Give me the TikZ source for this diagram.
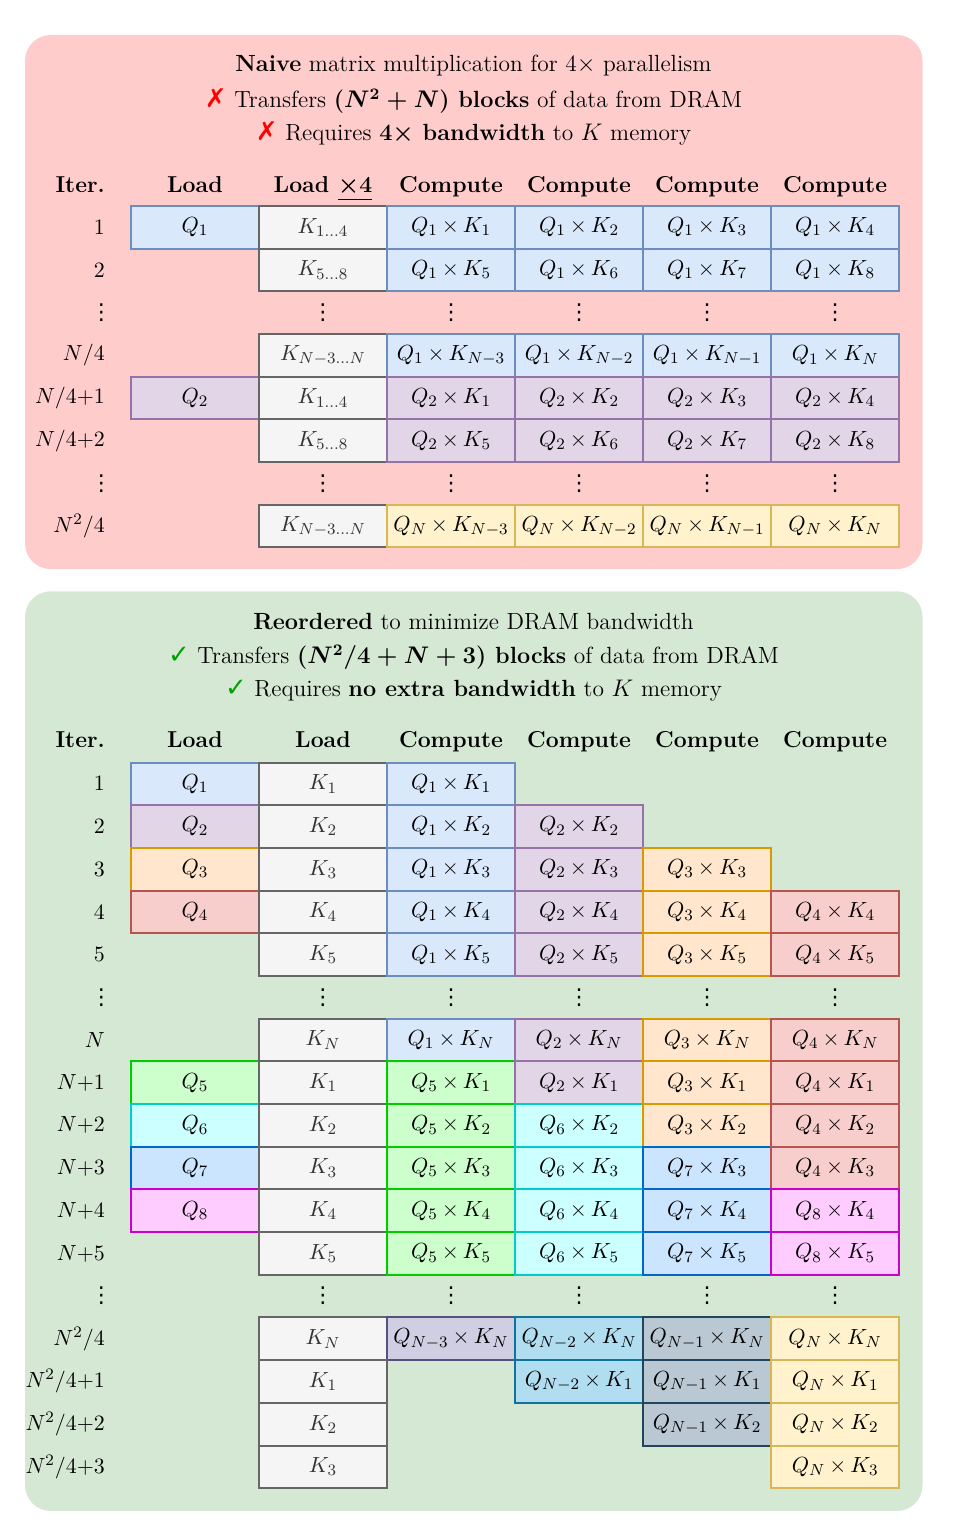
\documentclass[tikz,border=0pt]{standalone}
\usepackage{amsmath}
\usepackage{fontspec}
\usepackage{tikz}
\usetikzlibrary{positioning,calc}
\newfontfamily\marksfont{DejaVu Sans}

\definecolor{panelPink}{HTML}{FFCCCC}
\definecolor{panelGreen}{HTML}{D5E8D4}
\definecolor{fillK}{HTML}{F5F5F5}  \definecolor{lineK}{HTML}{666666} \definecolor{textK}{HTML}{333333}
\definecolor{fillB}{HTML}{DAE8FC}  \definecolor{lineB}{HTML}{6C8EBF}
\definecolor{fillP}{HTML}{E1D5E7}  \definecolor{lineP}{HTML}{9673A6}
\definecolor{fillO}{HTML}{FFE6CC}  \definecolor{lineO}{HTML}{D79B00}
\definecolor{fillR}{HTML}{F8CECC}  \definecolor{lineR}{HTML}{B85450}
\definecolor{fillY}{HTML}{FFF2CC}  \definecolor{lineY}{HTML}{D6B656}
\definecolor{fillG}{HTML}{CCFFCC}  \definecolor{lineG}{HTML}{00CC00}
\definecolor{fillC}{HTML}{CCFFFF}  \definecolor{lineC}{HTML}{00CCCC}
\definecolor{fillL}{HTML}{CCE5FF}  \definecolor{lineL}{HTML}{0066CC}
\definecolor{fillM}{HTML}{FFCCFF}  \definecolor{lineM}{HTML}{CC00CC}
\definecolor{fillV}{HTML}{D0CEE2}  \definecolor{lineV}{HTML}{56517E}
\definecolor{fillS}{HTML}{B1DDF0}  \definecolor{lineS}{HTML}{10739E}
\definecolor{fillD}{HTML}{BAC8D3}  \definecolor{lineD}{HTML}{23445D}
\definecolor{tickGreen}{HTML}{00A000}

\tikzset{
    cell/.style={draw, line width=1pt, minimum width=2.25cm, minimum height=0.75cm, inner sep=0pt,
                 font=\fontsize{11}{13}\selectfont, execute at begin node={\medmuskip=3.3mu\relax}},
    cellK/.style={cell, draw=lineK, fill=fillK, text=textK},
    cellB/.style={cell, draw=lineB, fill=fillB},
    cellP/.style={cell, draw=lineP, fill=fillP},
    cellO/.style={cell, draw=lineO, fill=fillO},
    cellR/.style={cell, draw=lineR, fill=fillR},
    cellY/.style={cell, draw=lineY, fill=fillY},
    cellG/.style={cell, draw=lineG, fill=fillG},
    cellC/.style={cell, draw=lineC, fill=fillC},
    cellL/.style={cell, draw=lineL, fill=fillL},
    cellM/.style={cell, draw=lineM, fill=fillM},
    cellV/.style={cell, draw=lineV, fill=fillV},
    cellS/.style={cell, draw=lineS, fill=fillS},
    cellD/.style={cell, draw=lineD, fill=fillD},
    head/.style={font=\fontsize{11.5}{13}\selectfont\bfseries, text height=1.7ex, text depth=0.5ex},
    iter/.style={anchor=east, inner xsep=0pt, font=\fontsize{11}{13}\selectfont},
    vdot/.style={inner sep=0pt, font=\marksfont\fontsize{11}{13}\selectfont},
    title/.style={font=\fontsize{11.7}{13}\selectfont},
    panel/.style={rounded corners=0.45cm},
}
\newcommand{\nomark}{{\marksfont\bfseries\fontsize{13}{13}\selectfont\color{red}✗}}
\newcommand{\okmark}{{\marksfont\bfseries\fontsize{13}{13}\selectfont\color{tickGreen}✓}}

\begin{document}
\begin{tikzpicture}
    \useasboundingbox (0,0) rectangle (16.99,-26.99);

    % Naive panel
    \fill[panel, panelPink] (0.44,-0.615) rectangle (16.21,-10.0);
    \node[title] (tA1) at (8.32,-1.16) {\textbf{Naive} matrix multiplication for 4$\times$ parallelism};
    \node[title] (tA2) at (8.32,-1.78) {\nomark\ Transfers \textbf{({\boldmath$N^2 + N$}) blocks} of data from DRAM};
    \node[title] (tA3) at (8.32,-2.34) {\nomark\ Requires \textbf{4{\boldmath$\times$} bandwidth} to $K$ memory};

    % Naive table header
    \node[iter, font=\fontsize{11.5}{13}\selectfont\bfseries, text height=1.7ex, text depth=0.5ex] (hA0) at (1.85,-3.3) {Iter.};
    \node[head] (hA1) at (3.425,-3.3) {Load};
    \node[head] (hA2) at (5.675,-3.3) {Load \underline{{\boldmath$\times$}4}};
    \node[head] (hA3) at (7.925,-3.3) {Compute};
    \node[head] (hA4) at (10.175,-3.3) {Compute};
    \node[head] (hA5) at (12.425,-3.3) {Compute};
    \node[head] (hA6) at (14.675,-3.3) {Compute};

    % Naive rows
    \node[iter] (iA1) at (1.85,-3.995) {$1$};
    \node[cellB] (T1L) at (3.425,-3.995) {$Q_1$};
    \node[cellK] (T1K) at (5.675,-3.995) {$K_{1\ldots4}$};
    \node[cellB] (T1a) at (7.925,-3.995) {$Q_1 \times K_1$};
    \node[cellB] (T1b) at (10.175,-3.995) {$Q_1 \times K_2$};
    \node[cellB] (T1c) at (12.425,-3.995) {$Q_1 \times K_3$};
    \node[cellB] (T1d) at (14.675,-3.995) {$Q_1 \times K_4$};

    \node[iter] (iA2) at (1.85,-4.745) {$2$};
    \node[cellK] (T2K) at (5.675,-4.745) {$K_{5\ldots8}$};
    \node[cellB] (T2a) at (7.925,-4.745) {$Q_1 \times K_5$};
    \node[cellB] (T2b) at (10.175,-4.745) {$Q_1 \times K_6$};
    \node[cellB] (T2c) at (12.425,-4.745) {$Q_1 \times K_7$};
    \node[cellB] (T2d) at (14.675,-4.745) {$Q_1 \times K_8$};

    \node[vdot] (dA0) at (1.78,-5.495) {⋮};
    \node[vdot] (dA2) at (5.675,-5.495) {⋮};
    \node[vdot] (dA3) at (7.925,-5.495) {⋮};
    \node[vdot] (dA4) at (10.175,-5.495) {⋮};
    \node[vdot] (dA5) at (12.425,-5.495) {⋮};
    \node[vdot] (dA6) at (14.675,-5.495) {⋮};

    \node[iter] (iA3) at (1.85,-6.245) {$N/4$};
    \node[cellK] (T3K) at (5.675,-6.245) {$K_{N-3\ldots N}$};
    \node[cellB] (T3a) at (7.925,-6.245) {$Q_1 \times K_{N-3}$};
    \node[cellB] (T3b) at (10.175,-6.245) {$Q_1 \times K_{N-2}$};
    \node[cellB] (T3c) at (12.425,-6.245) {$Q_1 \times K_{N-1}$};
    \node[cellB] (T3d) at (14.675,-6.245) {$Q_1 \times K_N$};

    \node[iter] (iA4) at (1.85,-6.995) {$N/4{+}1$};
    \node[cellP] (T4L) at (3.425,-6.995) {$Q_2$};
    \node[cellK] (T4K) at (5.675,-6.995) {$K_{1\ldots4}$};
    \node[cellP] (T4a) at (7.925,-6.995) {$Q_2 \times K_1$};
    \node[cellP] (T4b) at (10.175,-6.995) {$Q_2 \times K_2$};
    \node[cellP] (T4c) at (12.425,-6.995) {$Q_2 \times K_3$};
    \node[cellP] (T4d) at (14.675,-6.995) {$Q_2 \times K_4$};

    \node[iter] (iA5) at (1.85,-7.745) {$N/4{+}2$};
    \node[cellK] (T5K) at (5.675,-7.745) {$K_{5\ldots8}$};
    \node[cellP] (T5a) at (7.925,-7.745) {$Q_2 \times K_5$};
    \node[cellP] (T5b) at (10.175,-7.745) {$Q_2 \times K_6$};
    \node[cellP] (T5c) at (12.425,-7.745) {$Q_2 \times K_7$};
    \node[cellP] (T5d) at (14.675,-7.745) {$Q_2 \times K_8$};

    \node[vdot] (dB0) at (1.78,-8.495) {⋮};
    \node[vdot] (dB2) at (5.675,-8.495) {⋮};
    \node[vdot] (dB3) at (7.925,-8.495) {⋮};
    \node[vdot] (dB4) at (10.175,-8.495) {⋮};
    \node[vdot] (dB5) at (12.425,-8.495) {⋮};
    \node[vdot] (dB6) at (14.675,-8.495) {⋮};

    \node[iter] (iA6) at (1.85,-9.245) {$N^2/4$};
    \node[cellK] (T6K) at (5.675,-9.245) {$K_{N-3\ldots N}$};
    \node[cellY] (T6a) at (7.925,-9.245) {$Q_N \times K_{N-3}$};
    \node[cellY] (T6b) at (10.175,-9.245) {$Q_N \times K_{N-2}$};
    \node[cellY] (T6c) at (12.425,-9.245) {$Q_N \times K_{N-1}$};
    \node[cellY] (T6d) at (14.675,-9.245) {$Q_N \times K_N$};

    % Reordered panel
    \fill[panel, panelGreen] (0.44,-10.39) rectangle (16.21,-26.55);
    \node[title] (tB1) at (8.32,-10.92) {\textbf{Reordered} to minimize DRAM bandwidth};
    \node[title] (tB2) at (8.32,-11.55) {\okmark\ Transfers \textbf{({\boldmath$N^2/4 + N + 3$}) blocks} of data from DRAM};
    \node[title] (tB3) at (8.32,-12.13) {\okmark\ Requires \textbf{no extra bandwidth} to $K$ memory};

    % Reordered table header
    \node[iter, font=\fontsize{11.5}{13}\selectfont\bfseries, text height=1.7ex, text depth=0.5ex] (hB0) at (1.85,-13.05) {Iter.};
    \node[head] (hB1) at (3.425,-13.05) {Load};
    \node[head] (hB2) at (5.675,-13.05) {Load};
    \node[head] (hB3) at (7.925,-13.05) {Compute};
    \node[head] (hB4) at (10.175,-13.05) {Compute};
    \node[head] (hB5) at (12.425,-13.05) {Compute};
    \node[head] (hB6) at (14.675,-13.05) {Compute};

    % Reordered rows, first Q block
    \node[iter] (iB1) at (1.85,-13.775) {$1$};
    \node[cellB] (B1L) at (3.425,-13.775) {$Q_1$};
    \node[cellK] (B1K) at (5.675,-13.775) {$K_1$};
    \node[cellB] (B1a) at (7.925,-13.775) {$Q_1 \times K_1$};

    \node[iter] (iB2) at (1.85,-14.525) {$2$};
    \node[cellP] (B2L) at (3.425,-14.525) {$Q_2$};
    \node[cellK] (B2K) at (5.675,-14.525) {$K_2$};
    \node[cellB] (B2a) at (7.925,-14.525) {$Q_1 \times K_2$};
    \node[cellP] (B2b) at (10.175,-14.525) {$Q_2 \times K_2$};

    \node[iter] (iB3) at (1.85,-15.275) {$3$};
    \node[cellO] (B3L) at (3.425,-15.275) {$Q_3$};
    \node[cellK] (B3K) at (5.675,-15.275) {$K_3$};
    \node[cellB] (B3a) at (7.925,-15.275) {$Q_1 \times K_3$};
    \node[cellP] (B3b) at (10.175,-15.275) {$Q_2 \times K_3$};
    \node[cellO] (B3c) at (12.425,-15.275) {$Q_3 \times K_3$};

    \node[iter] (iB4) at (1.85,-16.025) {$4$};
    \node[cellR] (B4L) at (3.425,-16.025) {$Q_4$};
    \node[cellK] (B4K) at (5.675,-16.025) {$K_4$};
    \node[cellB] (B4a) at (7.925,-16.025) {$Q_1 \times K_4$};
    \node[cellP] (B4b) at (10.175,-16.025) {$Q_2 \times K_4$};
    \node[cellO] (B4c) at (12.425,-16.025) {$Q_3 \times K_4$};
    \node[cellR] (B4d) at (14.675,-16.025) {$Q_4 \times K_4$};

    \node[iter] (iB5) at (1.85,-16.775) {$5$};
    \node[cellK] (B5K) at (5.675,-16.775) {$K_5$};
    \node[cellB] (B5a) at (7.925,-16.775) {$Q_1 \times K_5$};
    \node[cellP] (B5b) at (10.175,-16.775) {$Q_2 \times K_5$};
    \node[cellO] (B5c) at (12.425,-16.775) {$Q_3 \times K_5$};
    \node[cellR] (B5d) at (14.675,-16.775) {$Q_4 \times K_5$};

    \node[vdot] (dC0) at (1.78,-17.525) {⋮};
    \node[vdot] (dC2) at (5.675,-17.525) {⋮};
    \node[vdot] (dC3) at (7.925,-17.525) {⋮};
    \node[vdot] (dC4) at (10.175,-17.525) {⋮};
    \node[vdot] (dC5) at (12.425,-17.525) {⋮};
    \node[vdot] (dC6) at (14.675,-17.525) {⋮};

    \node[iter] (iB6) at (1.85,-18.275) {$N$};
    \node[cellK] (B6K) at (5.675,-18.275) {$K_N$};
    \node[cellB] (B6a) at (7.925,-18.275) {$Q_1 \times K_N$};
    \node[cellP] (B6b) at (10.175,-18.275) {$Q_2 \times K_N$};
    \node[cellO] (B6c) at (12.425,-18.275) {$Q_3 \times K_N$};
    \node[cellR] (B6d) at (14.675,-18.275) {$Q_4 \times K_N$};

    % Reordered rows, second Q block
    \node[iter] (iB7) at (1.85,-19.025) {$N{+}1$};
    \node[cellG] (B7L) at (3.425,-19.025) {$Q_5$};
    \node[cellK] (B7K) at (5.675,-19.025) {$K_1$};
    \node[cellG] (B7a) at (7.925,-19.025) {$Q_5 \times K_1$};
    \node[cellP] (B7b) at (10.175,-19.025) {$Q_2 \times K_1$};
    \node[cellO] (B7c) at (12.425,-19.025) {$Q_3 \times K_1$};
    \node[cellR] (B7d) at (14.675,-19.025) {$Q_4 \times K_1$};

    \node[iter] (iB8) at (1.85,-19.775) {$N{+}2$};
    \node[cellC] (B8L) at (3.425,-19.775) {$Q_6$};
    \node[cellK] (B8K) at (5.675,-19.775) {$K_2$};
    \node[cellG] (B8a) at (7.925,-19.775) {$Q_5 \times K_2$};
    \node[cellC] (B8b) at (10.175,-19.775) {$Q_6 \times K_2$};
    \node[cellO] (B8c) at (12.425,-19.775) {$Q_3 \times K_2$};
    \node[cellR] (B8d) at (14.675,-19.775) {$Q_4 \times K_2$};

    \node[iter] (iB9) at (1.85,-20.525) {$N{+}3$};
    \node[cellL] (B9L) at (3.425,-20.525) {$Q_7$};
    \node[cellK] (B9K) at (5.675,-20.525) {$K_3$};
    \node[cellG] (B9a) at (7.925,-20.525) {$Q_5 \times K_3$};
    \node[cellC] (B9b) at (10.175,-20.525) {$Q_6 \times K_3$};
    \node[cellL] (B9c) at (12.425,-20.525) {$Q_7 \times K_3$};
    \node[cellR] (B9d) at (14.675,-20.525) {$Q_4 \times K_3$};

    \node[iter] (iB10) at (1.85,-21.275) {$N{+}4$};
    \node[cellM] (B10L) at (3.425,-21.275) {$Q_8$};
    \node[cellK] (B10K) at (5.675,-21.275) {$K_4$};
    \node[cellG] (B10a) at (7.925,-21.275) {$Q_5 \times K_4$};
    \node[cellC] (B10b) at (10.175,-21.275) {$Q_6 \times K_4$};
    \node[cellL] (B10c) at (12.425,-21.275) {$Q_7 \times K_4$};
    \node[cellM] (B10d) at (14.675,-21.275) {$Q_8 \times K_4$};

    \node[iter] (iB11) at (1.85,-22.025) {$N{+}5$};
    \node[cellK] (B11K) at (5.675,-22.025) {$K_5$};
    \node[cellG] (B11a) at (7.925,-22.025) {$Q_5 \times K_5$};
    \node[cellC] (B11b) at (10.175,-22.025) {$Q_6 \times K_5$};
    \node[cellL] (B11c) at (12.425,-22.025) {$Q_7 \times K_5$};
    \node[cellM] (B11d) at (14.675,-22.025) {$Q_8 \times K_5$};

    \node[vdot] (dD0) at (1.78,-22.775) {⋮};
    \node[vdot] (dD2) at (5.675,-22.775) {⋮};
    \node[vdot] (dD3) at (7.925,-22.775) {⋮};
    \node[vdot] (dD4) at (10.175,-22.775) {⋮};
    \node[vdot] (dD5) at (12.425,-22.775) {⋮};
    \node[vdot] (dD6) at (14.675,-22.775) {⋮};

    % Reordered rows, tail
    \node[iter] (iB13) at (1.85,-23.525) {$N^2/4$};
    \node[cellK] (B13K) at (5.675,-23.525) {$K_N$};
    \node[cellV] (B13a) at (7.925,-23.525) {$Q_{N-3} \times K_N$};
    \node[cellS] (B13b) at (10.175,-23.525) {$Q_{N-2} \times K_N$};
    \node[cellD] (B13c) at (12.425,-23.525) {$Q_{N-1} \times K_N$};
    \node[cellY] (B13d) at (14.675,-23.525) {$Q_N \times K_N$};

    \node[iter] (iB14) at (1.85,-24.275) {$N^2/4{+}1$};
    \node[cellK] (B14K) at (5.675,-24.275) {$K_1$};
    \node[cellS] (B14b) at (10.175,-24.275) {$Q_{N-2} \times K_1$};
    \node[cellD] (B14c) at (12.425,-24.275) {$Q_{N-1} \times K_1$};
    \node[cellY] (B14d) at (14.675,-24.275) {$Q_N \times K_1$};

    \node[iter] (iB15) at (1.85,-25.025) {$N^2/4{+}2$};
    \node[cellK] (B15K) at (5.675,-25.025) {$K_2$};
    \node[cellD] (B15c) at (12.425,-25.025) {$Q_{N-1} \times K_2$};
    \node[cellY] (B15d) at (14.675,-25.025) {$Q_N \times K_2$};

    \node[iter] (iB16) at (1.85,-25.775) {$N^2/4{+}3$};
    \node[cellK] (B16K) at (5.675,-25.775) {$K_3$};
    \node[cellY] (B16d) at (14.675,-25.775) {$Q_N \times K_3$};
\end{tikzpicture}
\end{document}
